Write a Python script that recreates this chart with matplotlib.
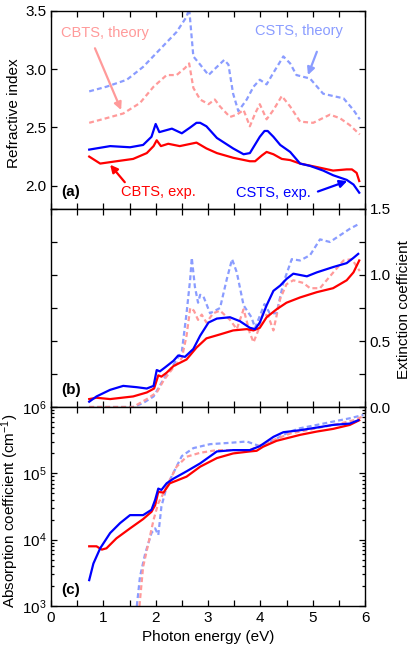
import numpy as np
import matplotlib
matplotlib.use("Agg")
import matplotlib.pyplot as plt
from matplotlib.ticker import MultipleLocator, LogLocator, NullFormatter, FormatStrFormatter

plt.rcParams['font.family'] = ['Liberation Sans', 'DejaVu Sans']
plt.rcParams['mathtext.fontset'] = 'custom'
plt.rcParams['mathtext.rm'] = 'Liberation Sans'
plt.rcParams['mathtext.it'] = 'Liberation Sans:italic'

# ---------------- data ----------------
# (a) refractive index
n_csts_exp_E = [0.73, 1.13, 1.51, 1.76, 1.92, 2.0, 2.07, 2.31, 2.50, 2.66, 2.78, 2.85, 2.97, 3.17, 3.48, 3.68, 3.80, 3.99, 4.08, 4.14, 4.25, 4.38, 4.57, 4.76, 4.95, 5.20, 5.39, 5.65, 5.78, 5.89]
n_csts_exp = [2.31, 2.34, 2.33, 2.35, 2.42, 2.53, 2.46, 2.49, 2.45, 2.50, 2.54, 2.54, 2.51, 2.41, 2.32, 2.27, 2.28, 2.42, 2.47, 2.47, 2.42, 2.35, 2.29, 2.19, 2.17, 2.13, 2.09, 2.05, 2.01, 1.94]

n_cbts_exp_E = [0.73, 0.94, 1.25, 1.57, 1.83, 1.96, 2.02, 2.10, 2.24, 2.46, 2.78, 2.97, 3.17, 3.48, 3.80, 3.90, 4.03, 4.12, 4.25, 4.41, 4.57, 4.76, 5.08, 5.39, 5.65, 5.75, 5.84, 5.89]
n_cbts_exp = [2.25, 2.19, 2.21, 2.23, 2.28, 2.34, 2.39, 2.34, 2.36, 2.34, 2.37, 2.32, 2.28, 2.24, 2.21, 2.21, 2.26, 2.29, 2.27, 2.23, 2.22, 2.19, 2.16, 2.13, 2.14, 2.14, 2.11, 2.04]

n_csts_th_E = [0.73, 1.06, 1.45, 1.76, 2.08, 2.40, 2.59, 2.64, 2.72, 2.85, 3.01, 3.17, 3.31, 3.39, 3.48, 3.58, 3.74, 3.87, 3.99, 4.12, 4.25, 4.44, 4.57, 4.69, 4.95, 5.20, 5.39, 5.59, 5.78, 5.90]
n_csts_th = [2.81, 2.85, 2.91, 3.02, 3.17, 3.32, 3.45, 3.52, 3.11, 3.04, 2.95, 3.02, 3.08, 3.04, 2.79, 2.64, 2.74, 2.85, 2.91, 2.87, 2.97, 3.11, 3.05, 2.95, 2.92, 2.79, 2.77, 2.75, 2.65, 2.57]

n_cbts_th_E = [0.73, 1.06, 1.38, 1.70, 1.96, 2.21, 2.40, 2.56, 2.64, 2.72, 2.85, 3.01, 3.13, 3.23, 3.42, 3.55, 3.68, 3.80, 3.90, 3.99, 4.12, 4.25, 4.41, 4.57, 4.76, 5.01, 5.33, 5.52, 5.71, 5.90]
n_cbts_th = [2.54, 2.58, 2.62, 2.71, 2.85, 2.95, 2.95, 3.01, 3.05, 2.84, 2.74, 2.70, 2.74, 2.68, 2.59, 2.61, 2.65, 2.51, 2.62, 2.70, 2.57, 2.65, 2.77, 2.68, 2.55, 2.54, 2.61, 2.58, 2.52, 2.44]

# (b) extinction coefficient
k_csts_exp_E = [0.73, 0.87, 1.13, 1.38, 1.64, 1.83, 1.96, 2.02, 2.08, 2.18, 2.34, 2.43, 2.56, 2.72, 2.85, 3.01, 3.17, 3.42, 3.61, 3.80, 3.90, 3.99, 4.12, 4.25, 4.38, 4.50, 4.63, 4.76, 4.89, 5.08, 5.39, 5.65, 5.78, 5.87]
k_csts_exp = [0.04, 0.08, 0.13, 0.16, 0.15, 0.14, 0.16, 0.28, 0.27, 0.30, 0.35, 0.39, 0.38, 0.44, 0.54, 0.64, 0.67, 0.68, 0.65, 0.60, 0.59, 0.64, 0.77, 0.88, 0.92, 0.97, 1.01, 1.00, 0.99, 1.02, 1.06, 1.09, 1.13, 1.16]

k_cbts_exp_E = [0.73, 0.87, 1.13, 1.57, 1.83, 1.97, 2.05, 2.11, 2.21, 2.34, 2.59, 2.78, 2.97, 3.23, 3.48, 3.74, 3.87, 3.99, 4.12, 4.31, 4.50, 4.76, 5.08, 5.39, 5.65, 5.78, 5.89]
k_cbts_exp = [0.06, 0.07, 0.06, 0.08, 0.11, 0.14, 0.24, 0.23, 0.26, 0.31, 0.36, 0.45, 0.52, 0.55, 0.58, 0.59, 0.58, 0.60, 0.68, 0.74, 0.79, 0.83, 0.87, 0.90, 0.96, 1.02, 1.11]

k_csts_th_E = [0.73, 1.57, 1.76, 1.96, 2.15, 2.34, 2.50, 2.59, 2.66, 2.69, 2.75, 2.81, 2.85, 2.91, 3.04, 3.23, 3.36, 3.46, 3.55, 3.68, 3.83, 3.90, 3.99, 4.08, 4.18, 4.31, 4.44, 4.60, 4.76, 4.95, 5.14, 5.33, 5.52, 5.71, 5.90]
k_csts_th = [0.0, 0.0, 0.03, 0.08, 0.21, 0.32, 0.42, 0.71, 0.97, 1.13, 0.91, 0.79, 0.85, 0.84, 0.71, 0.75, 0.97, 1.12, 1.02, 0.77, 0.68, 0.60, 0.69, 0.78, 0.71, 0.71, 0.94, 1.12, 1.11, 1.15, 1.27, 1.25, 1.30, 1.35, 1.39]

k_cbts_th_E = [0.73, 1.57, 1.83, 2.02, 2.15, 2.34, 2.50, 2.59, 2.66, 2.73, 2.81, 2.88, 2.97, 3.10, 3.23, 3.42, 3.55, 3.68, 3.80, 3.87, 3.96, 4.05, 4.15, 4.25, 4.38, 4.50, 4.63, 4.82, 4.95, 5.14, 5.33, 5.59, 5.75, 5.90]
k_cbts_th = [0.0, 0.0, 0.06, 0.11, 0.20, 0.30, 0.37, 0.54, 0.75, 0.73, 0.66, 0.70, 0.64, 0.71, 0.73, 0.66, 0.59, 0.74, 0.56, 0.49, 0.58, 0.71, 0.69, 0.58, 0.82, 0.93, 0.96, 0.94, 0.90, 0.90, 0.99, 1.11, 1.12, 1.03]

# (c) absorption coefficient, log10(cm^-1)
a_csts_exp_E = [0.73, 0.81, 0.94, 1.13, 1.32, 1.51, 1.76, 1.92, 1.99, 2.05, 2.11, 2.21, 2.34, 2.59, 2.85, 3.17, 3.48, 3.80, 3.99, 4.25, 4.44, 4.76, 5.08, 5.39, 5.71, 5.87]
a_csts_exp_log = [3.39, 3.64, 3.87, 4.10, 4.25, 4.37, 4.37, 4.45, 4.60, 4.77, 4.75, 4.85, 4.92, 5.03, 5.15, 5.33, 5.35, 5.35, 5.41, 5.55, 5.62, 5.65, 5.69, 5.73, 5.75, 5.80]

a_cbts_exp_E = [0.73, 0.87, 0.97, 1.06, 1.25, 1.51, 1.76, 1.92, 1.99, 2.05, 2.15, 2.27, 2.40, 2.59, 2.85, 3.17, 3.48, 3.80, 3.93, 4.05, 4.31, 4.76, 5.08, 5.39, 5.71, 5.89]
a_cbts_exp_log = [3.90, 3.90, 3.85, 3.87, 4.02, 4.17, 4.31, 4.42, 4.52, 4.72, 4.71, 4.85, 4.89, 4.95, 5.10, 5.23, 5.30, 5.33, 5.34, 5.40, 5.49, 5.58, 5.63, 5.67, 5.73, 5.80]

a_csts_th_E = [1.64, 1.70, 1.80, 1.92, 1.99, 2.05, 2.11, 2.21, 2.34, 2.50, 2.72, 3.04, 3.42, 3.74, 3.99, 4.25, 4.57, 4.76, 5.08, 5.39, 5.71, 5.97]
a_csts_th_log = [3.0, 3.44, 3.79, 4.10, 4.17, 4.07, 4.50, 4.80, 5.01, 5.26, 5.38, 5.44, 5.46, 5.48, 5.41, 5.50, 5.63, 5.68, 5.73, 5.78, 5.83, 5.88]

a_cbts_th_E = [1.69, 1.76, 1.86, 1.96, 2.05, 2.15, 2.24, 2.40, 2.59, 2.85, 3.17, 3.48, 3.80, 4.05, 4.31, 4.57, 4.89, 5.20, 5.52, 5.78, 5.97]
a_cbts_th_log = [3.0, 3.59, 3.94, 4.30, 4.55, 4.70, 4.85, 5.10, 5.25, 5.31, 5.35, 5.35, 5.35, 5.44, 5.52, 5.60, 5.65, 5.70, 5.75, 5.80, 5.86]

# ---------------- style ----------------
C_BLUE = '#0000ff'
C_RED = '#ff0000'
C_LBLUE = '#8a9cff'
C_LRED = '#ff9a9a'
LW = 1.6
DASH = (2.2, 1.4)
FS = 11

fig = plt.figure(figsize=(4.15, 6.66), dpi=100)
W, H = 415.0, 666.0
L, R = 51, 365

def add(top, bot):
    return fig.add_axes([L / W, 1 - bot / H, (R - L) / W, (bot - top) / H])

ax_a = add(11, 209)
ax_b = add(209, 407)
ax_c = add(407, 606)

def style(ax):
    ax.set_xlim(0, 6)
    ax.xaxis.set_major_locator(MultipleLocator(1))
    ax.xaxis.set_minor_locator(MultipleLocator(0.5))
    ax.tick_params(axis='both', which='both', direction='in', top=True, right=True,
                   labelsize=FS, width=0.9)
    ax.tick_params(axis='both', which='major', length=4)
    ax.tick_params(axis='both', which='minor', length=4)
    ax.tick_params(axis='y', which='minor', length=3)
    for s in ax.spines.values():
        s.set_linewidth(1.0)

for ax in (ax_a, ax_b, ax_c):
    style(ax)

# (a)
ax_a.plot(n_csts_th_E, n_csts_th, color=C_LBLUE, lw=LW, dashes=DASH)
ax_a.plot(n_cbts_th_E, n_cbts_th, color=C_LRED, lw=LW, dashes=DASH)
ax_a.plot(n_cbts_exp_E, n_cbts_exp, color=C_RED, lw=LW)
ax_a.plot(n_csts_exp_E, n_csts_exp, color=C_BLUE, lw=LW)
ax_a.set_ylim(1.8, 3.5)
ax_a.set_yticks([2.0, 2.5, 3.0, 3.5])
ax_a.yaxis.set_major_formatter(FormatStrFormatter('%.1f'))
ax_a.tick_params(labelbottom=False)
ax_a.set_ylabel('Refractive index', fontsize=FS)
ax_a.yaxis.set_label_coords(-0.094, 0.485)
ax_a.text(0.19, 1.95, '(a)', fontsize=FS, fontweight='bold', ha='left', va='center')

arrow_kw = dict(arrowstyle='-|>', lw=1.6, mutation_scale=11, shrinkA=0, shrinkB=0)
ax_a.text(1.03, 3.31, 'CBTS, theory', color=C_LRED, fontsize=10.5, ha='center', va='center')
ax_a.annotate('', xy=(1.34, 2.65), xytext=(0.84, 3.18),
              arrowprops=dict(color=C_LRED, **arrow_kw))
ax_a.text(4.74, 3.33, 'CSTS, theory', color=C_LBLUE, fontsize=10.5, ha='center', va='center')
ax_a.annotate('', xy=(4.91, 2.95), xytext=(5.08, 3.15),
              arrowprops=dict(color=C_LBLUE, **arrow_kw))
ax_a.text(2.06, 1.95, 'CBTS, exp.', color=C_RED, fontsize=10.5, ha='center', va='center')
ax_a.annotate('', xy=(1.13, 2.18), xytext=(1.41, 2.03),
              arrowprops=dict(color=C_RED, **arrow_kw))
ax_a.text(4.24, 1.94, 'CSTS, exp.', color=C_BLUE, fontsize=10.5, ha='center', va='center')
ax_a.annotate('', xy=(5.66, 2.04), xytext=(5.10, 1.95),
              arrowprops=dict(color=C_BLUE, **arrow_kw))

# (b)
ax_b.plot(k_csts_th_E, k_csts_th, color=C_LBLUE, lw=LW, dashes=DASH)
ax_b.plot(k_cbts_th_E, k_cbts_th, color=C_LRED, lw=LW, dashes=DASH)
ax_b.plot(k_cbts_exp_E, k_cbts_exp, color=C_RED, lw=LW)
ax_b.plot(k_csts_exp_E, k_csts_exp, color=C_BLUE, lw=LW)
ax_b.set_ylim(0, 1.5)
ax_b.yaxis.set_major_locator(MultipleLocator(0.5))
ax_b.yaxis.set_minor_locator(MultipleLocator(0.25))
ax_b.tick_params(axis='y', which='minor', length=4)
ax_b.tick_params(labelbottom=False, labelleft=False, labelright=True)
ax_b.yaxis.set_major_formatter(FormatStrFormatter('%.1f'))
ax_b.yaxis.set_label_position('right')
ax_b.set_ylabel('Extinction coefficient', fontsize=FS)
ax_b.yaxis.set_label_coords(1.103, 0.49)
ax_b.text(0.2, 0.13, '(b)', fontsize=FS, fontweight='bold', ha='left', va='center')

# (c)
ax_c.plot(a_csts_th_E, 10 ** np.array(a_csts_th_log), color=C_LBLUE, lw=LW, dashes=DASH)
ax_c.plot(a_cbts_th_E, 10 ** np.array(a_cbts_th_log), color=C_LRED, lw=LW, dashes=DASH)
ax_c.plot(a_cbts_exp_E, 10 ** np.array(a_cbts_exp_log), color=C_RED, lw=LW)
ax_c.plot(a_csts_exp_E, 10 ** np.array(a_csts_exp_log), color=C_BLUE, lw=LW)
ax_c.set_yscale('log')
ax_c.set_ylim(1e3, 1e6)
ax_c.yaxis.set_major_locator(LogLocator(base=10, numticks=10))
ax_c.yaxis.set_minor_locator(LogLocator(base=10, subs=np.arange(2, 10), numticks=20))
ax_c.yaxis.set_minor_formatter(NullFormatter())
ax_c.tick_params(axis='y', which='major', length=4)
ax_c.tick_params(axis='y', which='minor', length=2.5)
ax_c.set_xlabel('Photon energy (eV)', fontsize=FS)
ax_c.set_ylabel('Absorption coefficient (cm$^{-1}$)', fontsize=FS)
ax_c.yaxis.set_label_coords(-0.094, 0.48)
ax_c.text(0.2, 10 ** 3.24, '(c)', fontsize=FS, fontweight='bold', ha='left', va='center')

fig.savefig('out.png', dpi=100)
